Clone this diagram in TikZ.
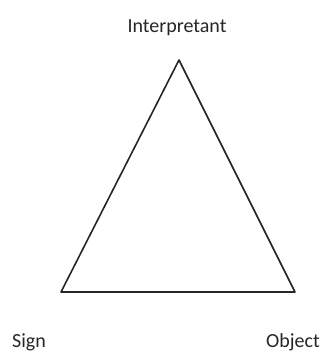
\documentclass[tikz,border=0pt]{standalone}
\usepackage{fontspec}
\setmainfont{Carlito}

\begin{document}
\begin{tikzpicture}[x=1pt,y=-1pt,line cap=round,line join=round,
  lbl/.style={font=\fontsize{20}{24}\selectfont,text=black!85,inner sep=0pt}]
\useasboundingbox (0,0) rectangle (324,356);
\coordinate (top) at (179,60);
\coordinate (left) at (61,292);
\coordinate (right) at (295,292);
\draw[line width=1.6pt,black!85] (top) -- (left) -- (right) -- cycle;
\node[lbl,anchor=base] (interp) at (177,32) {Interpretant};
\node[lbl,anchor=base west] (sign) at (12,347) {Sign};
\node[lbl,anchor=base east] (obj) at (320,347) {Object};
\end{tikzpicture}
\end{document}
